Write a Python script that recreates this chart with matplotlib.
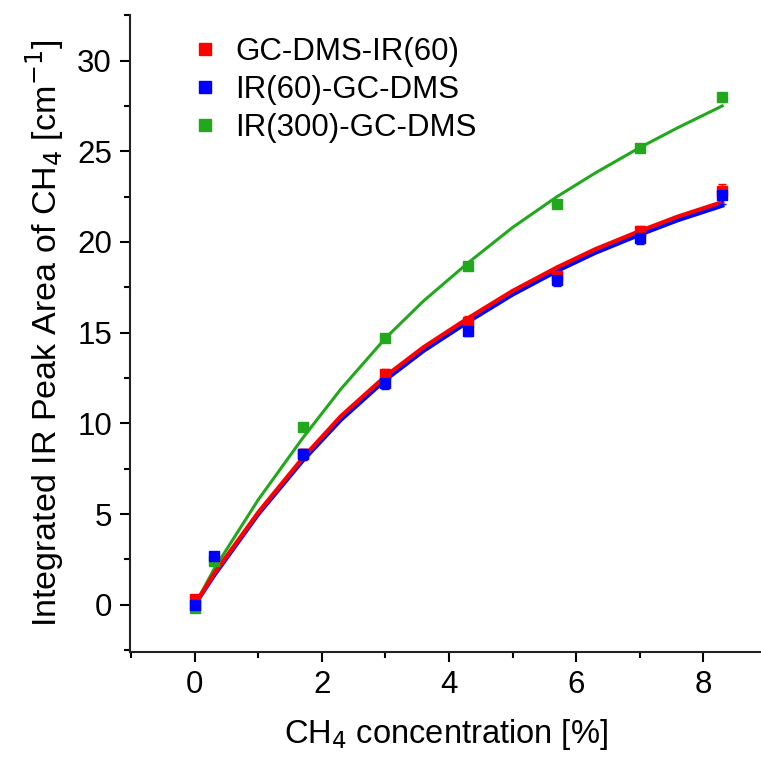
import matplotlib.pyplot as plt
from matplotlib.lines import Line2D
from matplotlib.ticker import MultipleLocator

plt.rcParams['font.family'] = ['Liberation Sans', 'DejaVu Sans']

# measured points
x_red = [0, 1.7, 3.0, 4.3, 5.7, 7.0, 8.3]
y_red = [0.3, 8.3, 12.7, 15.6, 18.1, 20.6, 22.8]
err_red = [0.2, 0.3, 0.3, 0.3, 0.3, 0.3, 0.4]

x_blue = [0, 0.3, 1.7, 3.0, 4.3, 5.7, 7.0, 8.3]
y_blue = [0.0, 2.7, 8.3, 12.2, 15.1, 17.9, 20.2, 22.6]
err_blue = [0.2, 0.2, 0.3, 0.3, 0.3, 0.3, 0.3, 0.5]

x_green = [0, 0.3, 1.7, 3.0, 4.3, 5.7, 7.0, 8.3]
y_green = [-0.15, 2.4, 9.8, 14.7, 18.7, 22.1, 25.2, 28.0]

# fit curves
x_fit = [0, 0.3, 1.0, 1.7, 2.3, 3.0, 3.6, 4.3, 5.0, 5.7, 6.3, 7.0, 7.6, 8.3]
fit_red = [0, 1.7, 5.1, 8.1, 10.4, 12.6, 14.2, 15.8, 17.3, 18.6, 19.6, 20.6, 21.4, 22.2]
fit_blue = [0, 1.6, 5.0, 7.95, 10.2, 12.4, 14.0, 15.6, 17.1, 18.4, 19.4, 20.4, 21.2, 22.0]
fit_green = [0, 1.95, 5.8, 9.2, 11.9, 14.7, 16.75, 18.85, 20.8, 22.5, 23.8, 25.2, 26.3, 27.5]

labels = ['GC-DMS-IR(60)', 'IR(60)-GC-DMS', 'IR(300)-GC-DMS']
red = '#ff0000'
blue = '#0000ff'
green = '#22a81c'

fig = plt.figure(figsize=(7.61, 7.62), dpi=100)
ax = fig.add_axes([0.1708, 0.1444, 0.8292, 0.8356])

ax.plot(x_fit, fit_green, color=green, lw=2.2, zorder=2)
ax.plot(x_fit, fit_blue, color=blue, lw=3.0, zorder=2)
ax.plot(x_fit, fit_red, color=red, lw=3.0, zorder=2)

ax.errorbar(x_red, y_red, yerr=err_red, fmt='s', color=red, ms=7.5, capsize=3, elinewidth=1, zorder=3)
ax.errorbar(x_blue, y_blue, yerr=err_blue, fmt='s', color=blue, ms=7.5, capsize=3, elinewidth=1, zorder=3)
ax.plot(x_green, y_green, 's', color=green, ms=7.5, zorder=3)

ax.set_xlim(-1.02, 8.91)
ax.set_ylim(-2.6, 32.5)
ax.xaxis.set_major_locator(MultipleLocator(2))
ax.xaxis.set_minor_locator(MultipleLocator(1))
ax.yaxis.set_major_locator(MultipleLocator(5))
ax.yaxis.set_minor_locator(MultipleLocator(2.5))

for side in ['top', 'right']:
    ax.spines[side].set_visible(False)
for side in ['left', 'bottom']:
    ax.spines[side].set_linewidth(1.5)
    ax.spines[side].set_color('#222222')

ax.tick_params(which='major', direction='out', length=7, width=1.5, labelsize=22.5, pad=6)
ax.tick_params(which='minor', direction='out', length=4, width=1.5)

ax.set_xlabel('CH$_4$ concentration [%]', fontsize=23.5, labelpad=12)
ax.set_ylabel('Integrated IR Peak Area of CH$_4$ [cm$^{-1}$]', fontsize=24.5, labelpad=8)

handles = [Line2D([], [], marker='s', ls='none', color=c, ms=8) for c in [red, blue, green]]
ax.legend(handles, labels, loc='upper left', bbox_to_anchor=(0.065, 1.0), frameon=False,
          fontsize=22.5, handlelength=0.8, handletextpad=0.55, labelspacing=0.26, borderaxespad=0.3)

plt.savefig('out.png', dpi=100)
plt.close('all')
